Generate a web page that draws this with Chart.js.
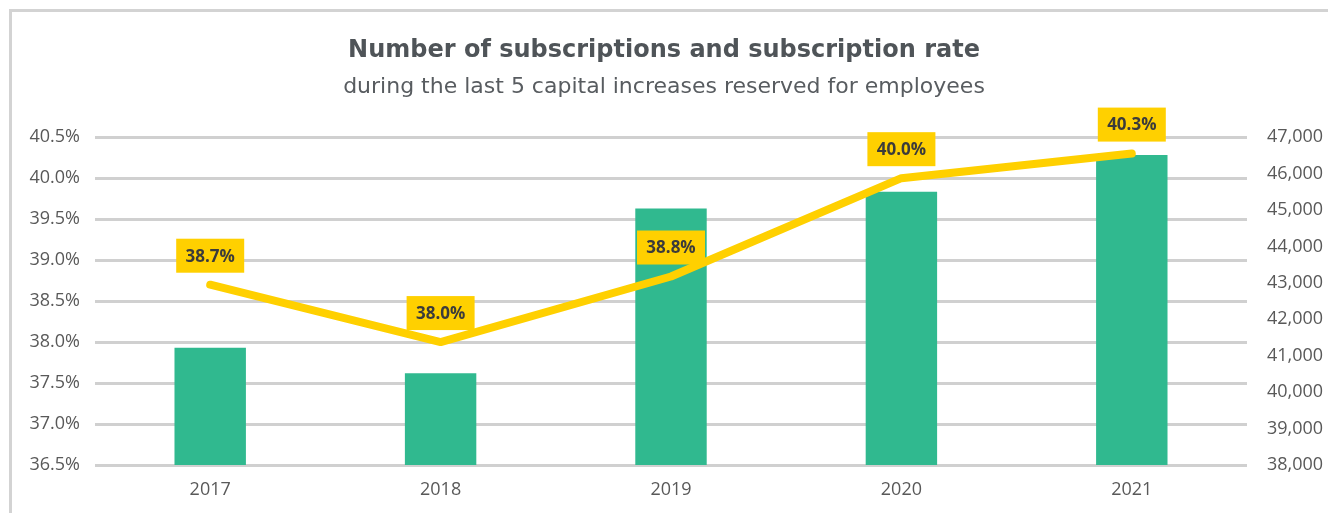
<!DOCTYPE html>
<html>
<head>
<meta charset="utf-8">
<script src="https://cdn.jsdelivr.net/npm/chart.js@4.4.1/dist/chart.umd.min.js"></script>
<style>
  html, body { margin: 0; padding: 0; background: #fff; overflow: hidden; }
  #wrap { position: relative; width: 1328px; height: 513px; }
  #frame { position: absolute; left: 9px; top: 9px; width: 1400px; height: 600px;
           border-left: 3px solid #d3d3d3; border-top: 3px solid #d3d3d3; pointer-events: none; }
</style>
</head>
<body>
<div id="wrap">
  <canvas id="chart_abonnements" width="1328" height="513"></canvas>
  <div id="frame"></div>
</div>
<script>
// data
var years = ["2017", "2018", "2019", "2020", "2021"];
var subscriptions = [41220, 40520, 45040, 45500, 46510];
var subscriptionRate = [38.7, 38.0, 38.8, 40.0, 40.3];
var rateTicks = [36.5, 37.0, 37.5, 38.0, 38.5, 39.0, 39.5, 40.0, 40.5];
var countTicks = [38000, 39000, 40000, 41000, 42000, 43000, 44000, 45000, 46000, 47000];

var FONT = "'Open Sans', 'Liberation Sans', sans-serif";
var TITLE_FONT = "'DejaVu Sans', 'Open Sans', sans-serif";

// yellow boxes with the rate above each point
var rateLabels = {
    id: 'rateLabels',
    afterDatasetsDraw: function(chart) {
        var ctx = chart.ctx;
        var meta = chart.getDatasetMeta(1);
        ctx.save();
        ctx.font = "bold 17px " + FONT;
        ctx.textAlign = 'center';
        ctx.textBaseline = 'middle';
        meta.data.forEach(function(pt, i) {
            var cx = pt.x, cy = pt.y - 29;
            ctx.fillStyle = '#FFD000';
            ctx.fillRect(cx - 34, cy - 17, 68, 34);
            ctx.fillStyle = '#3b3b3b';
            ctx.fillText(subscriptionRate[i].toFixed(1) + '%', cx, cy + 1);
        });
        ctx.restore();
    }
};

var ctx = document.getElementById("chart_abonnements").getContext('2d');
var chart = new Chart(ctx, {
    data: {
        labels: years,
        datasets: [
            {
                type: 'bar',
                label: 'Number of subscriptions',
                data: subscriptions,
                yAxisID: 'yCount',
                backgroundColor: '#30B98F',
                barPercentage: 0.31,
                categoryPercentage: 1,
                order: 2
            },
            {
                type: 'line',
                label: 'Subscription rate',
                data: subscriptionRate,
                yAxisID: 'yRate',
                borderColor: '#FFD000',
                borderWidth: 8,
                borderCapStyle: 'round',
                borderJoinStyle: 'round',
                pointRadius: 0,
                tension: 0,
                order: 1
            }
        ]
    },
    options: {
        responsive: false,
        animation: false,
        layout: { padding: { left: 0, right: 0, top: 0, bottom: 0 } },
        plugins: {
            legend: { display: false },
            tooltip: { enabled: false },
            title: {
                display: true,
                text: 'Number of subscriptions and subscription rate',
                color: '#4f5458',
                font: { family: TITLE_FONT, size: 24, weight: 'bold' },
                padding: { top: 36, bottom: 4 }
            },
            subtitle: {
                display: true,
                text: 'during the last 5 capital increases reserved for employees',
                color: '#585c60',
                font: { family: TITLE_FONT, size: 22 },
                padding: { top: 5, bottom: 37 }
            }
        },
        scales: {
            x: {
                grid: { display: false, drawTicks: false },
                border: { display: false },
                afterFit: function(s) { s.height = 48; },
                ticks: { color: '#595959', font: { family: FONT, size: 18 }, padding: 14 }
            },
            yRate: {
                position: 'left',
                min: 36.5,
                max: 40.5,
                afterBuildTicks: function(s) { s.ticks = rateTicks.map(function(v) { return { value: v }; }); },
                afterFit: function(s) { s.width = 95; },
                grid: { color: '#d0d0d0', lineWidth: 3, drawTicks: false },
                border: { display: false },
                ticks: {
                    color: '#595959',
                    font: { family: FONT, size: 18 },
                    padding: 15,
                    callback: function(v) { return v.toFixed(1) + '%'; }
                }
            },
            yCount: {
                position: 'right',
                min: 38000,
                max: 47000,
                afterBuildTicks: function(s) { s.ticks = countTicks.map(function(v) { return { value: v }; }); },
                afterFit: function(s) { s.width = 81; },
                grid: { display: false, drawTicks: false },
                border: { display: false },
                ticks: {
                    color: '#595959',
                    font: { family: FONT, size: 18 },
                    padding: 20,
                    callback: function(v) { return v.toLocaleString('en-US'); }
                }
            }
        }
    },
    plugins: [rateLabels]
});
</script>
</body>
</html>
